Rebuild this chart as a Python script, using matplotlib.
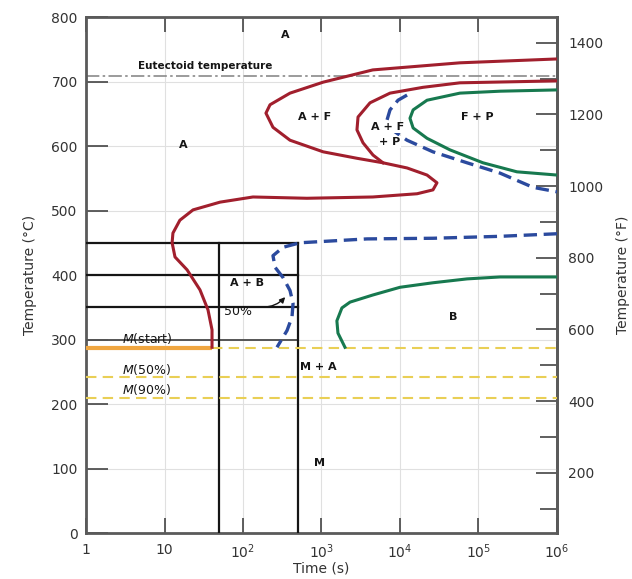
import matplotlib
matplotlib.use("Agg")
import matplotlib.pyplot as plt

# ---------------- data ----------------
# red curve 1 (A -> F start / pearlite & bainite start)
red1_t = [1e6, 5.8e4, 4.5e3, 1.05e3, 397, 221, 196, 241, 397, 1.05e3, 2.83e3, 6.07e3,
          1.23e4, 2.21e4, 2.96e4, 2.63e4, 1.65e4, 4.5e3, 653, 134, 51, 23.1, 15.7,
          12.8, 12.5, 13.6, 19.4, 28.3, 35.8, 40.3, 40.3]
red1_T = [735, 729, 718, 699, 682, 664, 651, 629, 609, 591, 581, 574,
          566, 555, 543, 532, 526, 521, 519, 521, 513, 501, 485,
          465, 450, 428, 408, 377, 346, 315, 288]
# red curve 2
red2_t = [1e6, 5.8e4, 1.96e4, 7.46e3, 4.15e3, 2.92e3, 2.83e3, 3.38e3, 4.53e3, 6.07e3]
red2_T = [701, 698, 691, 682, 667, 645, 625, 605, 586, 574]
# blue dashed: bainite start (upper + lower)
blue1_t = [1e6, 1.88e5, 2.63e4, 3.8e3, 532, 324, 241, 256, 324, 397, 434, 421, 364, 271]
blue1_T = [464, 460, 457, 456, 450, 443, 430, 412, 396, 376, 356, 335, 314, 288]
# blue dashed: pearlite start
blue2_t = [1.23e4, 9.44e3, 7.46e3, 6.82e3, 8.63e3, 1.23e4, 2.63e4, 7.15e4, 1.88e5, 4.94e5, 1e6]
blue2_T = [679, 671, 656, 640, 622, 609, 591, 574, 558, 536, 529]
# green: F+P finish
green1_t = [1e6, 1.88e5, 5.8e4, 2.21e4, 1.47e4, 1.34e4, 1.47e4, 2.21e4, 4.34e4, 1.14e5, 3.09e5, 1e6]
green1_T = [687, 685, 682, 671, 656, 643, 628, 612, 594, 574, 560, 555]
# green: bainite finish
green2_t = [1e6, 1.88e5, 7.15e4, 2.63e4, 1e4, 4.5e3, 2.31e3, 1.82e3, 1.57e3, 1.62e3, 1.99e3]
green2_T = [397, 397, 394, 388, 381, 369, 358, 349, 329, 310, 288]

eutectoid_T = 708
ms_T = 287
m50_T = 242
m90_T = 209
ms_end_t = 40.3
box_T = [450, 400, 350]
box_T_gray = 300
box_t_end = 500
vert_t = [50, 500]
vert_top = 450

xticks = [1, 10, 1e2, 1e3, 1e4, 1e5, 1e6]
xticklabels = ["1", "10", r"$10^2$", r"$10^3$", r"$10^4$", r"$10^5$", r"$10^6$"]
yticks_C = [0, 100, 200, 300, 400, 500, 600, 700, 800]
yticks_F_major = [200, 400, 600, 800, 1000, 1200, 1400]
yticks_F_minor = [100, 300, 500, 700, 900, 1100, 1300]

labels = [
    ("A", 343, 772, {}),
    ("Eutectoid temperature", 32.8, 724, {"fontsize": 7.5, "fontweight": "bold"}),
    ("A", 17.2, 601, {}),
    ("A + F", 826, 645, {}),
    ("A + F", 7030, 629, {"bbox": dict(fc="white", ec="none", pad=0.5)}),
    ("+ P", 7400, 606, {"bbox": dict(fc="white", ec="none", pad=0.5)}),
    ("F + P", 9.55e4, 645, {}),
    ("A + B", 112, 388, {}),
    ("M + A", 902, 257, {}),
    ("M", 955, 108, {}),
    ("B", 4.73e4, 335, {}),
]
m_labels = [
    (r"$M$(start)", 6.0, 302),
    (r"$M$(50%)", 6.0, 253),
    (r"$M$(90%)", 6.0, 222),
]

# ---------------- figure ----------------
fig = plt.figure(figsize=(6.32, 5.79), dpi=100)
ax = fig.add_axes([0.1361, 0.0794, 0.7452, 0.8912])
ax.set_xscale("log")
ax.set_xlim(1, 1e6)
ax.set_ylim(0, 800)

ax.grid(True, which="major", color="#e0e0e0", lw=0.8)
ax.set_axisbelow(True)

red = "#a11f2d"
blue = "#2b4a9e"
green = "#17794f"

ax.axhline(eutectoid_T, color="#8a8a8a", lw=1.2, ls=(0, (8, 2, 1.5, 2)), zorder=2)

# black box lines
for T in box_T:
    ax.plot([1, box_t_end], [T, T], color="#151515", lw=1.6, zorder=3)
ax.plot([1, box_t_end], [box_T_gray, box_T_gray], color="#555555", lw=1.4, zorder=3)
for t in vert_t:
    ax.plot([t, t], [0, vert_top], color="#151515", lw=1.6, zorder=3)

# martensite lines
ax.plot([1, ms_end_t], [ms_T, ms_T], color="#f0a640", lw=3, solid_capstyle="butt", zorder=3)
ax.plot([ms_end_t, 1e6], [ms_T, ms_T], color="#e9cf55", lw=1.5, ls=(0, (5, 3)), zorder=3)
ax.plot([1, 1e6], [m50_T, m50_T], color="#e9cf55", lw=1.5, ls=(0, (5, 3)), zorder=3)
ax.plot([1, 1e6], [m90_T, m90_T], color="#e9cf55", lw=1.5, ls=(0, (5, 3)), zorder=3)

# curves
ax.plot(red1_t, red1_T, color=red, lw=2.2, solid_joinstyle="round", zorder=4)
ax.plot(red2_t, red2_T, color=red, lw=2.2, solid_joinstyle="round", zorder=4)
ax.plot(green1_t, green1_T, color=green, lw=2.2, solid_joinstyle="round", zorder=4)
ax.plot(green2_t, green2_T, color=green, lw=2.2, solid_joinstyle="round", zorder=4)
ax.plot(blue1_t, blue1_T, color=blue, lw=2.4, ls=(0, (4, 2)), zorder=4)
ax.plot(blue2_t, blue2_T, color=blue, lw=2.4, ls=(0, (4, 2)), zorder=4)

# text labels
for s, t, T, kw in labels:
    kws = dict(fontsize=8, fontweight="bold", color="#151515", ha="center", va="center", zorder=6)
    kws.update(kw)
    ax.text(t, T, s, **kws)
for s, t, T in m_labels:
    ax.text(t, T, s, fontsize=9, color="#151515", ha="center", va="center", zorder=6)
ax.text(86, 343, "50%", fontsize=9, color="#151515", ha="center", va="center", zorder=6)
ax.annotate("", xy=(364, 369), xytext=(165, 350),
            arrowprops=dict(arrowstyle="-|>", color="#151515", lw=1.0,
                            connectionstyle="arc3,rad=0.25", mutation_scale=8),
            zorder=6)

# axes styling
for sp in ax.spines.values():
    sp.set_color("#5a5a5a")
    sp.set_linewidth(2)
ax.set_xticks(xticks)
ax.set_xticklabels(xticklabels)
ax.xaxis.set_minor_locator(matplotlib.ticker.NullLocator())
ax.set_yticks(yticks_C)
ax.tick_params(axis="x", which="major", direction="in", length=11, width=1.2, color="#444444",
               top=True, labelsize=10, labelcolor="#333333", pad=7)
ax.tick_params(axis="y", which="major", direction="in", length=16, width=1.2, color="#444444",
               labelsize=10, labelcolor="#333333", pad=6)
ax.set_xlabel("Time (s)", fontsize=10, color="#333333", labelpad=0)
ax.set_ylabel("Temperature (°C)", fontsize=10, color="#333333", labelpad=10)

sec = ax.secondary_yaxis("right", functions=(lambda c: c * 9 / 5 + 32, lambda f: (f - 32) * 5 / 9))
sec.set_yticks(yticks_F_major)
sec.set_yticks(yticks_F_minor, minor=True)
sec.tick_params(which="major", direction="in", length=15, width=1.2, color="#444444",
                labelsize=10, labelcolor="#333333", pad=8)
sec.tick_params(which="minor", direction="in", length=12, width=1.2, color="#444444")
sec.spines["right"].set_color("#5a5a5a")
sec.spines["right"].set_linewidth(2)
sec.set_ylabel("Temperature (°F)", fontsize=10, color="#333333", labelpad=9)

fig.savefig("out.png", dpi=100)
